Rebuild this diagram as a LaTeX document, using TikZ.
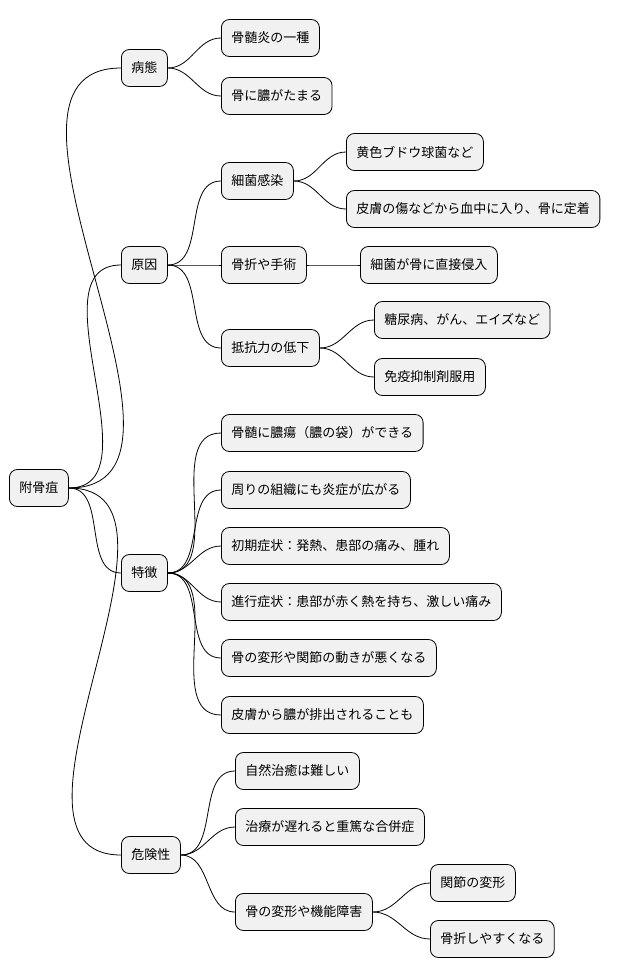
\documentclass[tikz,border=0pt]{standalone}
\usepackage{fontspec}
\newfontfamily\cjk{Noto Sans CJK JP}
\begin{document}
\begin{tikzpicture}[x=1pt,y=-1pt,
  box/.style={draw=black,fill={rgb,255:red,241;green,241;blue,241},rounded corners=8pt,line width=0.8pt,
    minimum height=37pt,inner xsep=10pt,anchor=west,font=\cjk\fontsize{13}{15}\selectfont},
  link/.style={draw=black,line width=0.8pt}]
\useasboundingbox (0,0) rectangle (628,978);
\node[box] (r) at (9,488) {附骨疽};
\node[box] (a) at (121,68) {病態};
\node[box] (a1) at (221,38) {骨髄炎の一種};
\node[box] (a2) at (221,96) {骨に膿がたまる};
\node[box] (b) at (121,265) {原因};
\node[box] (b1) at (221,181) {細菌感染};
\node[box] (b11) at (346,152) {黄色ブドウ球菌など};
\node[box] (b12) at (346,209) {皮膚の傷などから血中に入り、骨に定着};
\node[box] (b2) at (221,265) {骨折や手術};
\node[box] (b21) at (360,265) {細菌が骨に直接侵入};
\node[box] (b3) at (221,348) {抵抗力の低下};
\node[box] (b31) at (374,320) {糖尿病、がん、エイズなど};
\node[box] (b32) at (374,377) {免疫抑制剤服用};
\node[box] (c) at (121,573) {特徴};
\node[box] (c1) at (221,433) {骨髄に膿瘍（膿の袋）ができる};
\node[box] (c2) at (221,490) {周りの組織にも炎症が広がる};
\node[box] (c3) at (221,546) {初期症状：発熱、患部の痛み、腫れ};
\node[box] (c4) at (221,602) {進行症状：患部が赤く熱を持ち、激しい痛み};
\node[box] (c5) at (221,658) {骨の変形や関節の動きが悪くなる};
\node[box] (c6) at (221,715) {皮膚から膿が排出されることも};
\node[box] (d) at (121,855) {危険性};
\node[box] (d1) at (235,771) {自然治癒は難しい};
\node[box] (d2) at (235,827) {治療が遅れると重篤な合併症};
\node[box] (d3) at (235,912) {骨の変形や機能障害};
\node[box] (d31) at (430,883) {関節の変形};
\node[box] (d32) at (430,939) {骨折しやすくなる};
\foreach \p/\c in {r/a,r/b,r/c,r/d,a/a1,a/a2,b/b1,b/b2,b/b3,b1/b11,b1/b12,b2/b21,b3/b31,b3/b32,
  c/c1,c/c2,c/c3,c/c4,c/c5,c/c6,d/d1,d/d2,d/d3,d3/d31,d3/d32}
  \draw[link] (\p.east) to[out=0,in=180] (\c.west);
\end{tikzpicture}
\end{document}
